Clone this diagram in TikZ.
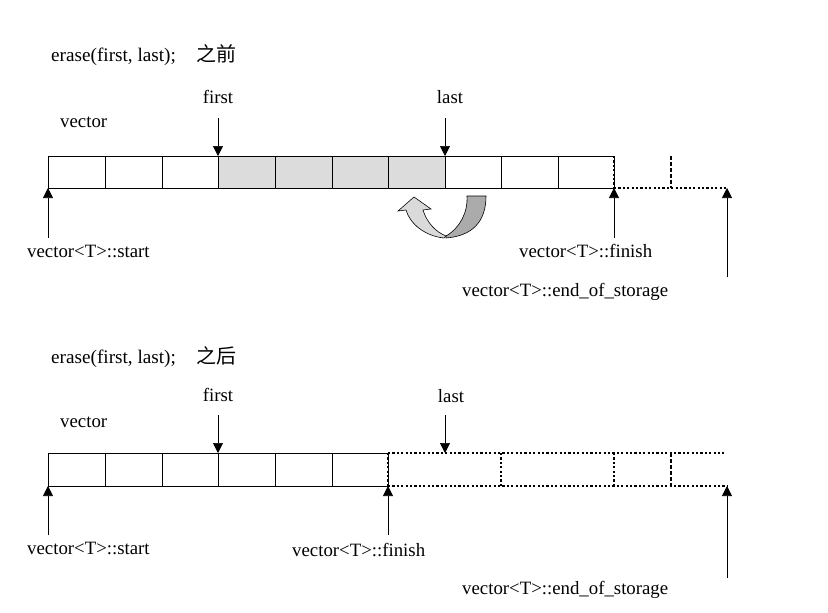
\documentclass[tikz,border=0pt]{standalone}
\usepackage{fontspec}
\setmainfont{Liberation Serif}
\newfontfamily\cjk{Noto Sans CJK SC}
\usetikzlibrary{arrows.meta}
\definecolor{cellgray}{HTML}{DCDCDC}
\definecolor{lightarrow}{HTML}{DADADA}
\definecolor{darkarrow}{HTML}{ABABAB}
\tikzset{
  lbl/.style={inner sep=0pt,anchor=base west,font=\fontsize{18.8}{20}\selectfont},
  ttl/.style={inner sep=0pt,anchor=base west,font=\fontsize{19.2}{21}\selectfont},
  cjkpart/.style={},
  cellbox/.style={draw=black,line width=0.8pt},
  shadedcell/.style={draw=black,line width=0.8pt,fill=cellgray},
  ptr/.style={draw=black,line width=0.7pt,-{Triangle[length=10pt,width=10pt]}},
  dotline/.style={draw=black,line width=1.1pt,dash pattern=on 2.2pt off 2.2pt},
  dashvert/.style={draw=black,line width=1.1pt,dash pattern=on 4pt off 2pt},
}
\begin{document}
\begin{tikzpicture}[x=1pt,y=-1pt]
\useasboundingbox (0,0) rectangle (828,613);

% ================= TOP: before =================
\node[ttl] (t1) at (51,61) {erase(first, last);\hspace{1.05em}{\cjk\fontsize{20}{22}\selectfont 之前}};
\node[lbl] (vec1) at (60,127) {vector};
\node[lbl,anchor=base] (first1) at (218,103) {first};
\node[lbl,anchor=base] (last1) at (450,103) {last};

% cells
\foreach \a/\b in {48/105,105/162,162/218,445/501,501/558,558/614}{
  \draw[cellbox] (\a,156) rectangle (\b,188);
}
\foreach \a/\b in {218/275,275/332,332/388,388/445}{
  \draw[shadedcell] (\a,156) rectangle (\b,188);
}
\draw[cellbox] (218,156) -- (218,188);
\draw[cellbox] (445,156) -- (445,188);
% unused capacity
\draw[dotline] (614,156) -- (614,188);
\draw[dotline] (614,188) -- (727,188);
\draw[dashvert] (671,156) -- (671,188);

% pointer coordinates
\coordinate (f1s) at (218,118);
\coordinate (f1e) at (218,156);
\coordinate (l1s) at (445,118);
\coordinate (l1e) at (445,156);
\coordinate (s1s) at (48,238);
\coordinate (s1e) at (48,188);
\coordinate (fi1s) at (614,238);
\coordinate (fi1e) at (614,188);
\coordinate (e1s) at (727,277);
\coordinate (e1e) at (727,188);
\draw[ptr] (f1s) -- (f1e);
\draw[ptr] (l1s) -- (l1e);
\draw[ptr] (s1s) -- (s1e);
\draw[ptr] (fi1s) -- (fi1e);
\draw[ptr] (e1s) -- (e1e);

\node[lbl] (st1) at (27,257) {vector<T>::start};
\node[lbl] (fn1) at (519,257) {vector<T>::finish};
\node[lbl] (eos1) at (462,296) {vector<T>::end\_of\_storage};

% curved U-turn arrow
\draw[black,line width=0.6pt,fill=lightarrow]
  (444,238) .. controls (425,236) and (410,224) .. (406,210)
  -- (398,211) -- (414,197) -- (431,209) -- (423,210)
  .. controls (427,223) and (436,232) .. (446,236) -- cycle;
\draw[black,line width=0.6pt,fill=darkarrow]
  (446,238) .. controls (472,236) and (486,222) .. (486,196)
  -- (467,196) .. controls (468,212) and (460,228) .. (446,236) -- cycle;

% ================= BOTTOM: after =================
\node[ttl] (t2) at (51,363) {erase(first, last);\hspace{1.05em}{\cjk\fontsize{20}{22}\selectfont 之后}};
\node[lbl] (vec2) at (60,427) {vector};
\node[lbl,anchor=base] (first2) at (218,401) {first};
\node[lbl,anchor=base] (last2) at (451,402) {last};

\foreach \a/\b in {48/105,105/162,162/218,218/275,275/332,332/388}{
  \draw[cellbox] (\a,453) rectangle (\b,486);
}
\draw[dotline] (388,453) -- (724,453);
\draw[dotline] (388,486) -- (727,486);
\draw[dotline] (388,453) -- (388,486);
\draw[dotline] (501,453) -- (501,486);
\draw[dotline] (614,453) -- (614,486);
\draw[dashvert] (671,453) -- (671,486);

\coordinate (f2s) at (218,415);
\coordinate (f2e) at (218,453);
\coordinate (l2s) at (445,415);
\coordinate (l2e) at (445,453);
\coordinate (s2s) at (48,535);
\coordinate (s2e) at (48,486);
\coordinate (fi2s) at (388,535);
\coordinate (fi2e) at (388,486);
\coordinate (e2s) at (727,578);
\coordinate (e2e) at (727,486);
\draw[ptr] (f2s) -- (f2e);
\draw[ptr] (l2s) -- (l2e);
\draw[ptr] (s2s) -- (s2e);
\draw[ptr] (fi2s) -- (fi2e);
\draw[ptr] (e2s) -- (e2e);

\node[lbl] (st2) at (27,554) {vector<T>::start};
\node[lbl] (fn2) at (292,556) {vector<T>::finish};
\node[lbl] (eos2) at (462,594) {vector<T>::end\_of\_storage};
\end{tikzpicture}
\end{document}
